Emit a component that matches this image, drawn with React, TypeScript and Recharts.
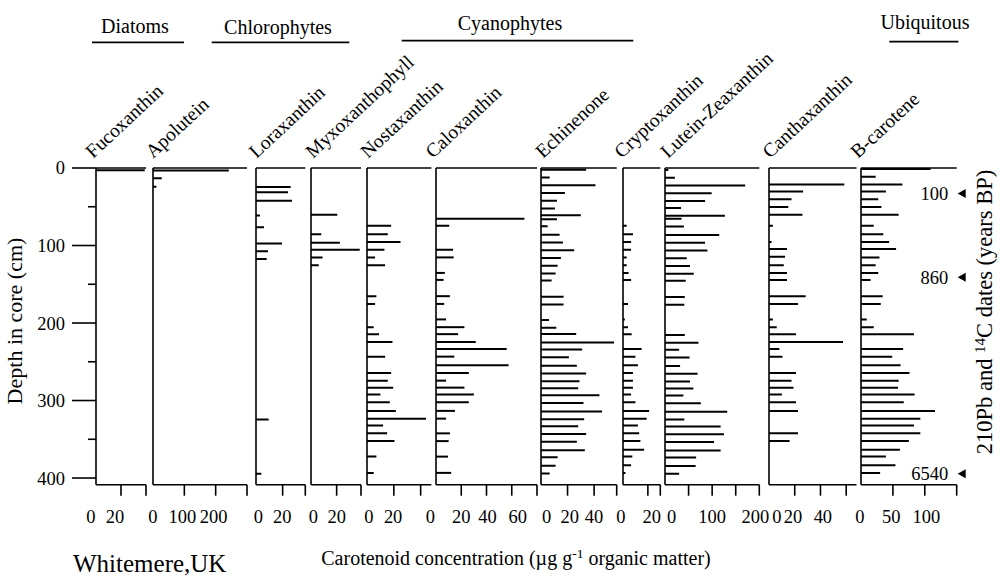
import { BarChart, Bar, XAxis, YAxis, ReferenceLine } from 'recharts';

const FONT = '"Liberation Serif", "Times New Roman", Times, serif';

// [depth in core (cm), concentration (µg g-1 organic matter)]
const fucoxanthin: [number, number][] = [[3, 39]];
const apolutein: [number, number][] = [[3, 242], [13, 28], [24, 11]];
const loraxanthin: [number, number][] = [
  [24, 26], [31, 24], [42, 27], [61, 3], [76, 6], [97, 19.5], [107, 9], [117, 8], [324, 9.5], [394, 4],
];
const myxoxanthophyll: [number, number][] = [
  [61, 20.5], [86, 8], [97, 22.5], [106, 38], [116, 9], [126, 6],
];
const nostaxanthin: [number, number][] = [
  [75, 18], [86, 15.5], [96, 25], [106, 13], [116, 6], [126, 13.5], [166, 7], [176, 6], [206, 5],
  [215, 9], [225, 19], [244, 13.5], [265, 18], [275, 15.5], [284, 19.5], [293, 10], [303, 17],
  [314, 21.5], [324, 44], [333, 12], [343, 15], [353, 20.5], [373, 7], [394, 5],
];
const caloxanthin: [number, number][] = [
  [66, 70], [75, 10.5], [106, 13.5], [116, 14], [136, 7], [145, 6], [166, 11], [176, 6.5], [196, 8],
  [206, 22.5], [215, 17.5], [225, 31.5], [234, 56], [244, 14.5], [255, 57.5], [265, 26], [275, 8],
  [284, 22.5], [293, 30], [303, 26], [314, 15], [324, 8], [343, 11], [353, 10], [373, 9.5], [394, 12],
];
const echinenone: [number, number][] = [
  [2, 34], [12, 6.5], [22, 41], [32, 18], [42, 12], [52, 10.5], [61, 30], [66, 12], [75, 5], [86, 14],
  [96, 16.5], [106, 25], [116, 15], [126, 12.5], [136, 11], [145, 8], [166, 17], [176, 17], [196, 6],
  [206, 11.5], [214, 26.5], [225, 55], [234, 31], [244, 21], [255, 27], [265, 34], [275, 29], [284, 28],
  [293, 44], [303, 32], [314, 46], [324, 32.5], [333, 28], [343, 34], [353, 27], [364, 33], [373, 12.5],
  [384, 11], [394, 6.5],
];
const cryptoxanthin: [number, number][] = [
  [75, 3], [86, 8], [96, 6.5], [106, 6.5], [116, 3], [126, 3], [136, 4.5], [145, 6.5], [176, 4],
  [196, 1.5], [206, 4], [215, 7], [234, 15], [244, 10], [255, 12], [265, 8], [275, 8], [284, 8],
  [293, 6.5], [303, 10], [314, 21], [324, 19], [333, 12], [343, 13], [353, 14], [364, 17], [373, 7.5],
  [384, 6.5], [394, 2],
];
const luteinZeaxanthin: [number, number][] = [
  [2, 7], [12, 21], [22, 170], [32, 99], [42, 85], [51, 34], [61, 127], [65, 35], [75, 40], [86, 115],
  [96, 85], [106, 90], [116, 46], [126, 53], [136, 61], [145, 44], [166, 42], [176, 41], [215, 42],
  [225, 71], [234, 30], [244, 52], [255, 32], [265, 69], [275, 53], [284, 60], [293, 39], [303, 76],
  [314, 132], [324, 41], [333, 118], [343, 125], [353, 104], [364, 118], [373, 66], [384, 65], [394, 30],
];
const canthaxanthin: [number, number][] = [
  [22, 58.5], [31, 26.5], [41, 17.5], [51, 15], [61, 26], [75, 3], [96, 2], [105, 14], [115, 12.5],
  [126, 11.5], [136, 14], [145, 14], [166, 28.5], [176, 22.5], [196, 3], [206, 6], [215, 21],
  [225, 57.5], [234, 8], [244, 10.5], [265, 21], [275, 17.5], [284, 19], [293, 10], [303, 21],
  [314, 22.5], [343, 22.5], [353, 16],
];
const bCarotene: [number, number][] = [
  [2, 109], [12, 23], [22, 65], [31, 39], [41, 27], [51, 32], [61, 59], [75, 20], [86, 35], [96, 44],
  [105, 55], [116, 29], [126, 23], [136, 27], [145, 15], [166, 34], [176, 31], [196, 9], [206, 20],
  [215, 83], [234, 66], [244, 49], [255, 62], [265, 76], [275, 59], [284, 58], [293, 84], [303, 67],
  [314, 116], [324, 93], [333, 83], [343, 93], [353, 75], [364, 61], [373, 39], [384, 54], [394, 30],
];

const depthTicks = [0, 50, 100, 150, 200, 250, 300, 350, 400];
// 210Pb and 14C dates (years BP) at their depths
const dateDepths = [33, 141, 394.5];
const dateLabels = ['100', '860', '6540'];

type Panel = {
  name: string;
  data: [number, number][];
  x0: number;
  x1: number;
  max: number;
  ticks: number[];
  labels: number[];
  shift: number[];
  nameX: number;
};

const panels: Panel[] = [
  { name: 'Fucoxanthin', data: fucoxanthin, x0: 96, x1: 146, max: 40, ticks: [0, 20, 40], labels: [0, 20], shift: [-5, -6], nameX: 93 },
  { name: 'Apolutein', data: apolutein, x0: 152.5, x1: 246.5, max: 300, ticks: [0, 100, 200, 300], labels: [0, 100, 200], shift: [0, -2, -2], nameX: 153 },
  { name: 'Loraxanthin', data: loraxanthin, x0: 255.7, x1: 305, max: 37, ticks: [0, 20, 37], labels: [0, 20], shift: [2.5, -0.5], nameX: 256.5 },
  { name: 'Myxoxanthophyll', data: myxoxanthophyll, x0: 311, x1: 361, max: 39, ticks: [0, 20, 39], labels: [0, 20], shift: [2.3, 0], nameX: 313 },
  { name: 'Nostaxanthin', data: nostaxanthin, x0: 367.3, x1: 431.7, max: 48, ticks: [0, 20, 40], labels: [0, 20], shift: [2, -0.7], nameX: 368 },
  { name: 'Caloxanthin', data: caloxanthin, x0: 435.7, x1: 536.7, max: 80, ticks: [0, 20, 40, 60, 80], labels: [0, 20, 40, 60], shift: [-5.7, 0, 1, 6], nameX: 433 },
  { name: 'Echinenone', data: echinenone, x0: 541, x1: 616.7, max: 57, ticks: [0, 20, 40, 57], labels: [0, 20, 40], shift: [5.7, 2.3, 0], nameX: 543 },
  { name: 'Cryptoxanthin', data: cryptoxanthin, x0: 622.7, x1: 660, max: 30, ticks: [0, 20, 30], labels: [0, 20], shift: [-2, 4], nameX: 621.7 },
  { name: 'Lutein-Zeaxanthin', data: luteinZeaxanthin, x0: 665, x1: 759.3, max: 200, ticks: [0, 50, 100, 150, 200], labels: [0, 100, 200], shift: [6.7, 0, -4], nameX: 668 },
  { name: 'Canthaxanthin', data: canthaxanthin, x0: 768.5, x1: 856, max: 68, ticks: [0, 20, 40, 60], labels: [0, 20, 40], shift: [8, -1.7, 2.4], nameX: 770 },
  { name: 'B-carotene', data: bCarotene, x0: 861, x1: 956.7, max: 150, ticks: [0, 50, 100, 150], labels: [0, 50, 100], shift: [-1, -1.7, 1.6], nameX: 858 },
];

const groups = [
  { label: 'Diatoms', x: 135, y: 33, from: 92, to: 184, lineY: 42.3 },
  { label: 'Chlorophytes', x: 278, y: 34, from: 211.7, to: 349.3, lineY: 42.3 },
  { label: 'Cyanophytes', x: 510, y: 30, from: 401.7, to: 633.3, lineY: 40.7 },
  { label: 'Ubiquitous', x: 925, y: 29, from: 889.3, to: 958.3, lineY: 41.7 },
];

const TOP = 168.3;
const PLOT_H = 316.7;
const DEPTH_MAX = 408.6;
const M = 14;
const AXIS_H = 48;
const LEFT_W = 70;
const RIGHT_W = 22;
const STROKE = 1.6;

function DepthTick(props: any) {
  const { x, y, payload } = props;
  const major = payload.value % 100 === 0;
  return (
    <g>
      <line x1={x - (major ? 24 : 8)} x2={x} y1={y} y2={y} stroke="#000" strokeWidth={STROKE} />
      {major && (
        <text x={x - 31} y={y + 6.5} textAnchor="end" fontSize={18.5} fontFamily={FONT} fill="#000">
          {payload.value}
        </text>
      )}
    </g>
  );
}

function DateTick(props: any) {
  const { x, y, payload } = props;
  const label = dateLabels[dateDepths.indexOf(payload.value)];
  return (
    <g>
      <text x={x - 8.5} y={y + 6.5} textAnchor="end" fontSize={18.5} fontFamily={FONT} fill="#000">
        {label}
      </text>
      <polygon points={`${x + 1},${y} ${x + 9},${y - 4.5} ${x + 9},${y + 4.5}`} fill="#000" />
    </g>
  );
}

function ConcTick(props: any) {
  const { x, y, payload, p } = props;
  const v = payload.value;
  const li = p.labels.indexOf(v);
  return (
    <g>
      {v !== 0 && <line x1={x} x2={x} y1={y} y2={y + 11} stroke="#000" strokeWidth={STROKE} />}
      {li >= 0 && (
        <text x={x + p.shift[li]} y={y + 38.5} textAnchor="middle" fontSize={18.5} fontFamily={FONT} fill="#000">
          {v}
        </text>
      )}
    </g>
  );
}

function PanelChart({ p, first, last }: { p: Panel; first: boolean; last: boolean }) {
  const data = p.data.map(([depth, value]) => ({ depth, value }));
  const plotW = p.x1 - p.x0;
  const leftW = first ? LEFT_W : 0;
  const rightW = last ? RIGHT_W : 0;
  return (
    <div style={{ position: 'absolute', left: p.x0 - M - leftW, top: TOP - M }}>
      <BarChart
        layout="vertical"
        width={plotW + 2 * M + leftW + rightW}
        height={M + PLOT_H + AXIS_H}
        data={data}
        margin={{ top: M, right: M, bottom: 0, left: M }}
      >
        <YAxis
          yAxisId="depth"
          type="number"
          dataKey="depth"
          domain={[0, DEPTH_MAX]}
          hide={!first && !last}
          orientation={last ? 'right' : 'left'}
          width={first ? leftW : rightW}
          ticks={last ? dateDepths : depthTicks}
          interval={0}
          axisLine={false}
          tickLine={false}
          tickSize={0}
          tickMargin={0}
          tick={last ? DateTick : DepthTick}
        />
        <XAxis
          type="number"
          domain={[0, p.max]}
          allowDataOverflow
          ticks={p.ticks}
          interval={0}
          height={AXIS_H}
          axisLine={{ stroke: '#000', strokeWidth: STROKE }}
          tickLine={false}
          tickSize={0}
          tickMargin={0}
          tick={(t: any) => <ConcTick {...t} p={p} />}
        />
        <ReferenceLine yAxisId="depth" x={0} stroke="#000" strokeWidth={STROKE} />
        <ReferenceLine yAxisId="depth" y={0} stroke="#000" strokeWidth={STROKE} />
        <Bar yAxisId="depth" dataKey="value" fill="#000" barSize={2} isAnimationActive={false} />
      </BarChart>
    </div>
  );
}

export default function App() {
  return (
    <div style={{ position: 'fixed', left: 0, top: 0, width: 1000, height: 581, background: '#fff', overflow: 'hidden' }}>
      {panels.map((p, i) => (
        <PanelChart key={p.name} p={p} first={i === 0} last={i === panels.length - 1} />
      ))}
      <svg width={1000} height={581} style={{ position: 'absolute', left: 0, top: 0, pointerEvents: 'none' }} fontFamily={FONT} fill="#000">
        {groups.map((g) => (
          <g key={g.label}>
            <text x={g.x} y={g.y} textAnchor="middle" fontSize={20}>{g.label}</text>
            <line x1={g.from} x2={g.to} y1={g.lineY} y2={g.lineY} stroke="#000" strokeWidth={1.8} />
          </g>
        ))}
        {panels.map((p) => (
          <text key={p.name} x={p.nameX} y={159} fontSize={19.5} transform={`rotate(-43 ${p.nameX} 159)`}>
            {p.name}
          </text>
        ))}
        <text x={22} y={321} fontSize={22} textAnchor="middle" transform="rotate(-90 22 321)">
          Depth in core (cm)
        </text>
        <text x={992} y={312} fontSize={22.5} textAnchor="middle" transform="rotate(-90 992 312)">
          210Pb and <tspan dy={-7} fontSize={15}>14</tspan><tspan dy={7}>C dates (years BP)</tspan>
        </text>
        <text x={516} y={565} fontSize={20} textAnchor="middle">
          Carotenoid concentration (µg g<tspan dy={-7} fontSize={13.5}>-1</tspan><tspan dy={7}> organic matter)</tspan>
        </text>
        <text x={73} y={572} fontSize={25}>Whitemere,UK</text>
      </svg>
    </div>
  );
}
